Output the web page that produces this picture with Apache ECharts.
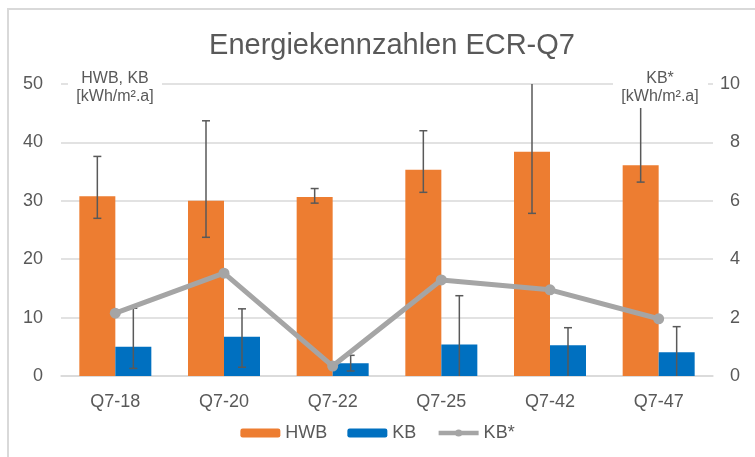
<!DOCTYPE html>
<html>
<head>
<meta charset="utf-8">
<script src="https://cdn.jsdelivr.net/npm/echarts@6/dist/echarts.min.js"></script>
<style>
  html, body { margin: 0; padding: 0; background: #fff; }
  #chart { width: 755px; height: 457px; }
</style>
</head>
<body>
<div id="chart"></div>
<script>
// Kategorien und Werte
const categories = ['Q7-18', 'Q7-20', 'Q7-22', 'Q7-25', 'Q7-42', 'Q7-47'];
const hwb = [30.8, 30.0, 30.65, 35.3, 38.4, 36.1];
const hwbLow = [27.0, 23.75, 29.6, 31.45, 27.85, 33.2];
const hwbHigh = [37.6, 43.7, 32.1, 42.0, 52, 47];
const kb = [5.0, 6.7, 2.2, 5.4, 5.25, 4.05];
const kbLow = [1.3, 1.5, 0.86, -1, -1, -1];
const kbHigh = [11.6, 11.5, 3.54, 13.75, 8.27, 8.45];
const kbStar = [2.15, 3.52, 0.34, 3.29, 2.95, 1.96];

const textColor = '#595959';
const barW = 36;

function errData(low, high) {
  return categories.map((c, i) => [i, low[i], high[i]]);
}

// Fehlerbalken als custom series, shift = Versatz zur Kategoriemitte
function errorBar(shift) {
  return function (params, api) {
    const i = api.value(0);
    const lo = api.coord([i, api.value(1)]);
    const hi = api.coord([i, api.value(2)]);
    const x = lo[0] + shift;
    const cap = 4;
    const st = { stroke: '#595959', lineWidth: 1.5 };
    return {
      type: 'group',
      children: [
        { type: 'line', shape: { x1: x, y1: lo[1], x2: x, y2: hi[1] }, style: st },
        { type: 'line', shape: { x1: x - cap, y1: lo[1], x2: x + cap, y2: lo[1] }, style: st },
        { type: 'line', shape: { x1: x - cap, y1: hi[1], x2: x + cap, y2: hi[1] }, style: st }
      ]
    };
  };
}

let chart = echarts.init(document.getElementById('chart'));
chart.setOption({
  animation: false,
  textStyle: { fontFamily: 'Liberation Sans, Arial, sans-serif', color: textColor },
  title: {
    text: 'Energiekennzahlen ECR-Q7',
    left: 387,
    textAlign: 'center',
    top: 26,
    textStyle: { fontSize: 29, fontWeight: 'normal', color: textColor }
  },
  grid: { left: 61, right: 42, top: 84, bottom: 81 },
  legend: {
    bottom: 10,
    left: 'center',
    itemWidth: 40,
    itemHeight: 9,
    itemGap: 20,
    textStyle: { fontSize: 18, color: textColor },
    data: [
      'HWB', 'KB',
      { name: 'KB*', lineStyle: { width: 4.5, color: '#A5A5A5' } }
    ]
  },
  xAxis: {
    type: 'category',
    data: categories,
    axisLine: { lineStyle: { color: '#d9d9d9', width: 1.5 } },
    axisTick: { show: false },
    axisLabel: { fontSize: 18, color: textColor, margin: 17 }
  },
  yAxis: [
    {
      type: 'value', min: 0, max: 50, interval: 10,
      axisLabel: { fontSize: 18, color: textColor, margin: 18 },
      splitLine: { lineStyle: { color: '#d9d9d9', width: 1.5 } },
      axisLine: { show: false }, axisTick: { show: false }
    },
    {
      type: 'value', min: 0, max: 10, interval: 2,
      axisLabel: { fontSize: 18, color: textColor, margin: 27, align: 'right' },
      splitLine: { show: false },
      axisLine: { show: false }, axisTick: { show: false }
    }
  ],
  series: [
    {
      name: 'HWB', type: 'bar', data: hwb, barWidth: barW, barGap: '0%',
      itemStyle: { color: '#ED7D31' }
    },
    {
      name: 'KB', type: 'bar', data: kb, barWidth: barW, barGap: '0%',
      itemStyle: { color: '#0070C0' }
    },
    {
      type: 'custom', renderItem: errorBar(-barW / 2), data: errData(hwbLow, hwbHigh),
      clip: true, z: 3, silent: true
    },
    {
      type: 'custom', renderItem: errorBar(barW / 2), data: errData(kbLow, kbHigh),
      clip: true, z: 3, silent: true
    },
    {
      name: 'KB*', type: 'line', yAxisIndex: 1, data: kbStar,
      symbol: 'circle', symbolSize: 11, z: 5,
      lineStyle: { color: '#A5A5A5', width: 5 },
      itemStyle: { color: '#A5A5A5' }
    }
  ],
  graphic: [
    { type: 'line', z: 100, shape: { x1: 7, y1: 9, x2: 755, y2: 9 }, style: { stroke: '#d9d9d9', lineWidth: 2 } },
    { type: 'line', z: 100, shape: { x1: 8, y1: 8, x2: 8, y2: 457 }, style: { stroke: '#d9d9d9', lineWidth: 2 } },
    { type: 'rect', z: 100, shape: { x: 68, y: 68, width: 94, height: 38 }, style: { fill: '#fff' } },
    {
      type: 'text', z: 101, x: 115, y: 70,
      style: { text: 'HWB, KB\n[kWh/m².a]', align: 'center', fontSize: 16, lineHeight: 18, fill: textColor, fontFamily: 'Liberation Sans, Arial, sans-serif' }
    },
    { type: 'rect', z: 100, shape: { x: 613, y: 68, width: 95, height: 40 }, style: { fill: '#fff' } },
    {
      type: 'text', z: 101, x: 660, y: 70,
      style: { text: 'KB*\n[kWh/m².a]', align: 'center', fontSize: 16, lineHeight: 18, fill: textColor, fontFamily: 'Liberation Sans, Arial, sans-serif' }
    }
  ]
});
</script>
</body>
</html>
